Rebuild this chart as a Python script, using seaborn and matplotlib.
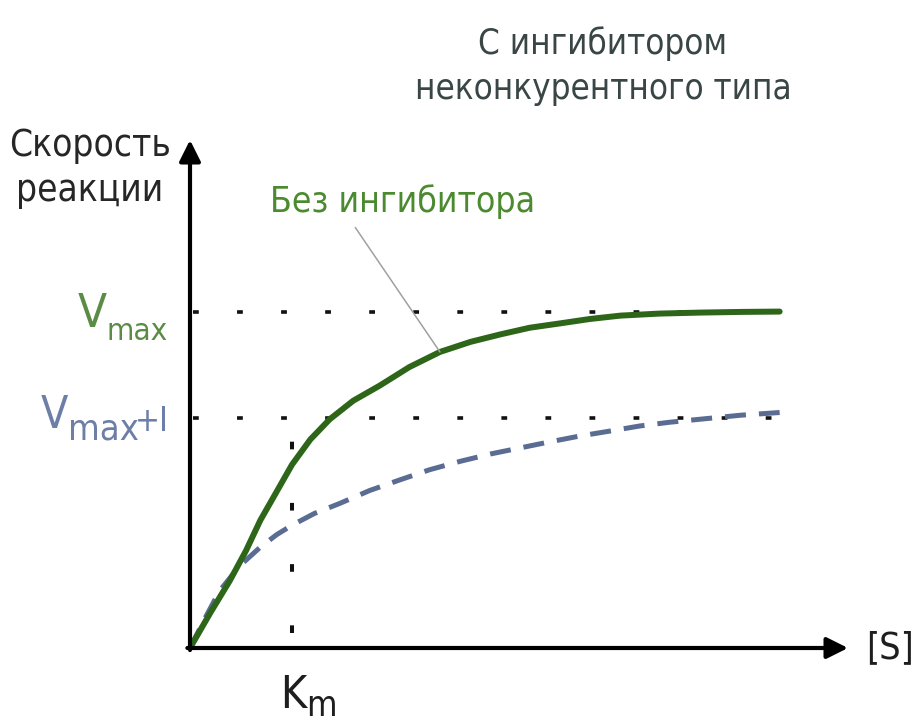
import numpy as np
import pandas as pd
import matplotlib
matplotlib.use("Agg")
import matplotlib.pyplot as plt
import seaborn as sns

# Данные: [S] в единицах Km, скорость в единицах Vmax
s_bez = [0, 0.20, 0.39, 0.55, 0.69, 0.85, 1.0, 1.18, 1.37, 1.6, 1.86, 2.15, 2.45, 2.75,
         3.04, 3.33, 3.63, 3.92, 4.22, 4.6, 5.0, 5.4, 5.78]
v_bez = [0, 0.105, 0.20, 0.29, 0.38, 0.465, 0.545, 0.62, 0.68, 0.735, 0.78, 0.835, 0.88,
         0.91, 0.932, 0.952, 0.965, 0.978, 0.988, 0.994, 0.997, 0.999, 1.0]
s_ingib = [0, 0.15, 0.29, 0.49, 0.69, 0.85, 1.0, 1.22, 1.47, 1.76, 2.06, 2.35, 2.65, 2.95,
           3.24, 3.53, 3.82, 4.12, 4.41, 4.7, 5.0, 5.4, 5.78]
v_ingib = [0, 0.09, 0.17, 0.245, 0.30, 0.337, 0.365, 0.40, 0.43, 0.468, 0.50, 0.53, 0.555,
           0.577, 0.595, 0.613, 0.63, 0.645, 0.66, 0.671, 0.68, 0.692, 0.70]
vmax = 1.0
vmax_i = 0.685
km = 1.0

df = pd.concat([
    pd.DataFrame({'S': s_bez, 'V': v_bez, 'curve': 'Без ингибитора'}),
    pd.DataFrame({'S': s_ingib, 'V': v_ingib, 'curve': 'С ингибитором'}),
])

sns.set_style("white")
plt.rcParams['font.family'] = ['DejaVu Sans']
plt.rcParams['font.stretch'] = 'condensed'

W, H = 912, 724
fig = plt.figure(figsize=(W / 100, H / 100), dpi=100)
ax = fig.add_axes([190 / W, 76 / H, 658 / W, 508 / H])
ax.set_xlim(0, 6.45)
ax.set_ylim(0, 1.51)

def px(x, y):
    return x / W, 1 - y / H

# пунктирные уровни
hdot = dict(color='#111111', lw=2.6, dashes=(1.6, 10.6), dash_capstyle='butt', zorder=1)
ax.plot([0.03, 6.0], [vmax, vmax], **hdot)
ax.plot([0.03, 5.8], [vmax_i, vmax_i], **hdot)
ax.plot([km, km], [0.045, vmax_i], color='#111111', lw=2.9, dashes=(1.9, 13.3),
        dash_capstyle='butt', zorder=1)

# кривые
sns.lineplot(data=df[df.curve == 'С ингибитором'], x='S', y='V', ax=ax, color='#5a6c92',
             lw=3.6, linestyle=(0, (4.2, 2.6)), sort=False, legend=False, zorder=2)
sns.lineplot(data=df[df.curve == 'Без ингибитора'], x='S', y='V', ax=ax, color='#2d6619',
             lw=4.3, sort=False, legend=False, zorder=3, solid_joinstyle='round')

# оси со стрелками
for sp in ax.spines.values():
    sp.set_visible(False)
ax.set_xticks([])
ax.set_yticks([])
ax.set_xlabel('')
ax.set_ylabel('')
arrow = dict(arrowstyle='-|>', lw=3, color='black', mutation_scale=32, shrinkA=0, shrinkB=0)
ax.annotate('', xy=(1, 0), xytext=(-0.004, 0), xycoords='axes fraction', arrowprops=arrow,
            annotation_clip=False)
ax.annotate('', xy=(0, 1), xytext=(0, -0.004), xycoords='axes fraction', arrowprops=arrow,
            annotation_clip=False)

# выноска к кривой
ax.annotate('', xy=(2.45, 0.88), xytext=(1.62, 1.25),
            arrowprops=dict(arrowstyle='-', color='#a0a0a0', lw=1.1, shrinkA=0, shrinkB=0))

# подписи
fig.text(*px(603, 66), 'С ингибитором\nнеконкурентного типа', ha='center', va='center',
         fontsize=25, color='#3a4646', linespacing=1.4)
fig.text(*px(90, 168), 'Скорость\nреакции', ha='center', va='center',
         fontsize=26.5, color='#262626', linespacing=1.3)
fig.text(*px(403, 202), 'Без ингибитора', ha='center', va='center',
         fontsize=25.5, color='#4c8a30')

fig.text(*px(107, 327), 'V', ha='right', va='baseline', fontsize=34, color='#5b8c45')
fig.text(*px(107, 340), 'max', ha='left', va='baseline', fontsize=22.5, color='#5b8c45')
fig.text(*px(68, 428), 'V', ha='right', va='baseline', fontsize=32, color='#6d7fa6')
fig.text(*px(68, 440), 'max', ha='left', va='baseline', fontsize=26, color='#6d7fa6')
fig.text(*px(135, 431), '+I', ha='left', va='baseline', fontsize=24, color='#6d7fa6')

fig.text(*px(306, 708), 'K', ha='right', va='baseline', fontsize=32, color='#1e1e1e')
fig.text(*px(306, 716), 'm', ha='left', va='baseline', fontsize=25, color='#1e1e1e')
fig.text(*px(866, 648), '[S]', ha='left', va='center', fontsize=27, color='#1e1e1e')

fig.savefig('out.png', dpi=100)
